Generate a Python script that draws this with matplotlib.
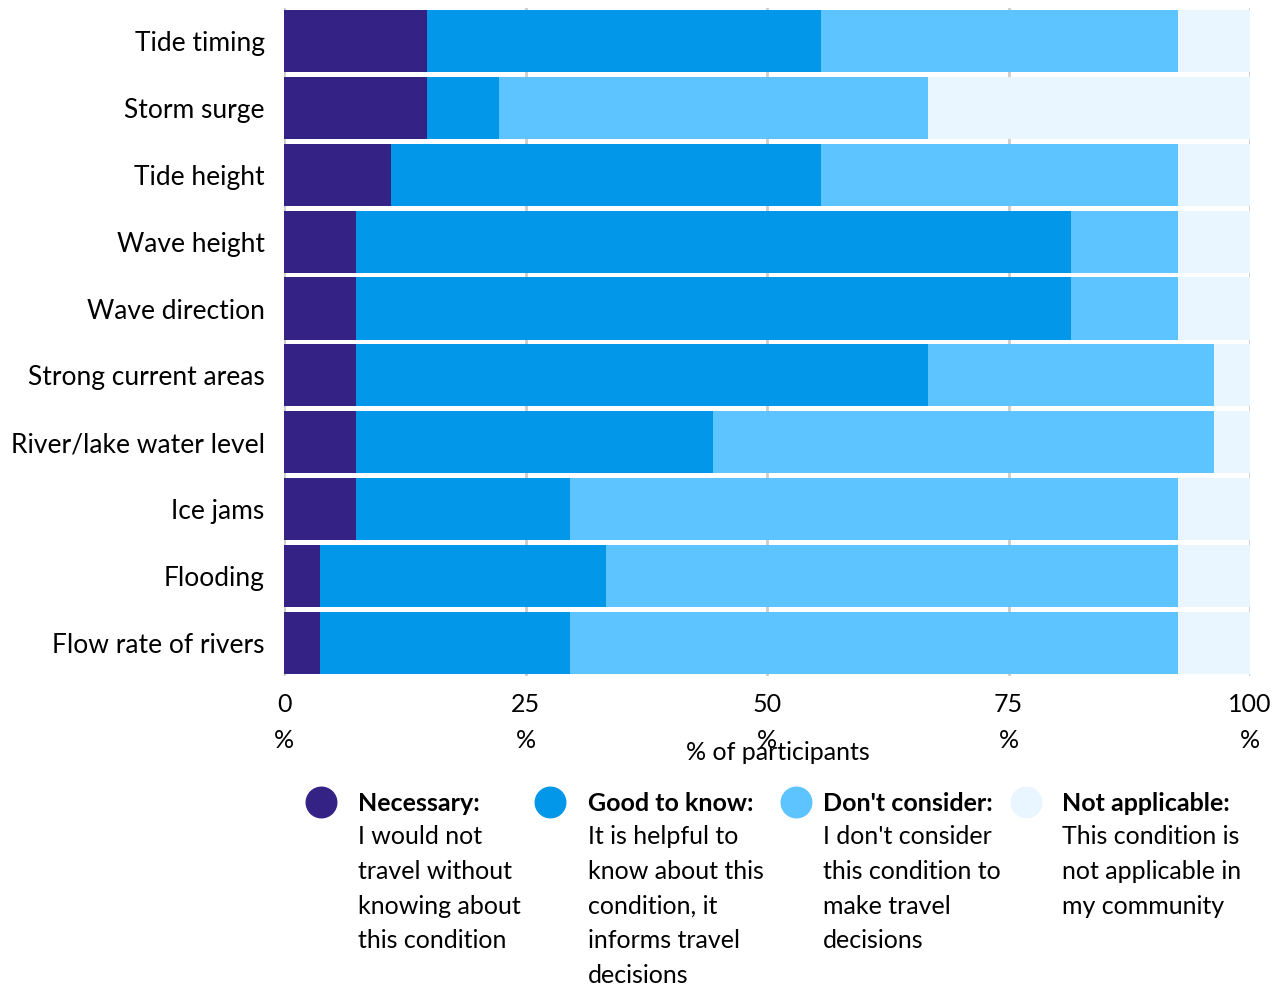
import numpy as np
import matplotlib
matplotlib.use("Agg")
import matplotlib.pyplot as plt
from matplotlib.lines import Line2D

plt.rcParams['font.family'] = ['Lato', 'DejaVu Sans']

# survey answers (number of participants, n = 27)
categories = ["Tide timing", "Storm surge", "Tide height", "Wave height", "Wave direction",
              "Strong current areas", "River/lake water level", "Ice jams", "Flooding",
              "Flow rate of rivers"]
necessary = [4, 4, 3, 2, 2, 2, 2, 2, 1, 1]
good_to_know = [11, 2, 12, 20, 20, 16, 10, 6, 8, 7]
dont_consider = [10, 12, 10, 3, 3, 8, 14, 17, 16, 17]
not_applicable = [2, 9, 2, 2, 2, 1, 1, 2, 2, 2]
n_participants = 27

tick_vals = [0, 25, 50, 75, 100]
tick_labels = ["0\n%", "25\n%", "50\n%", "75\n%", "100\n%"]

series_names = ["Necessary", "Good to know", "Don't consider", "Not applicable"]
series_desc = ["I would not\ntravel without\nknowing about\nthis condition",
               "It is helpful to\nknow about this\ncondition, it\ninforms travel\ndecisions",
               "I don't consider\nthis condition to\nmake travel\ndecisions",
               "This condition is\nnot applicable in\nmy community"]
colors = ["#342385", "#0397EA", "#5EC4FF", "#E9F6FF"]

fig = plt.figure(figsize=(12.83, 9.88), dpi=100)
ax = fig.add_axes([0.2214, 0.3158, 0.7529, 0.6762])

y = np.arange(len(categories))
left = np.zeros(len(categories))
for vals, col in zip([necessary, good_to_know, dont_consider, not_applicable], colors):
    pct = np.array(vals) / n_participants * 100
    ax.barh(y, pct, left=left, height=0.93, color=col, zorder=2)
    left += pct

ax.set_ylim(len(categories) - 0.5, -0.5)
ax.set_xlim(0, 100)
ax.set_yticks(y)
ax.set_yticklabels(categories, fontsize=19)
ax.set_xticks(tick_vals)
ax.set_xticklabels(tick_labels, fontsize=18, linespacing=1.7)
ax.tick_params(axis='y', length=0, pad=14)
ax.tick_params(axis='x', length=0, pad=12)
for s in ax.spines.values():
    s.set_visible(False)
ax.grid(axis='x', color='#cccccc', linewidth=2, zorder=0)
ax.set_axisbelow(True)

fig.text(0.606, 0.238, "% of participants", fontsize=18, ha='center', va='center')

# legend
circle_x = [321, 550, 796, 1026]
text_x = [358, 588, 823, 1062]
W, H = 1283, 988
for cx, tx, name, desc, col in zip(circle_x, text_x, series_names, series_desc, colors):
    fig.add_artist(Line2D([cx / W], [1 - 802 / H], marker='o', markersize=22,
                          color=col, transform=fig.transFigure, linestyle='none'))
    fig.text(tx / W, 1 - 803 / H, name + ":", fontsize=18, fontweight='bold',
             ha='left', va='center')
    fig.text(tx / W, 1 - 825 / H, desc, fontsize=18, ha='left', va='top',
             linespacing=1.62)

fig.savefig("out.png", dpi=100)
